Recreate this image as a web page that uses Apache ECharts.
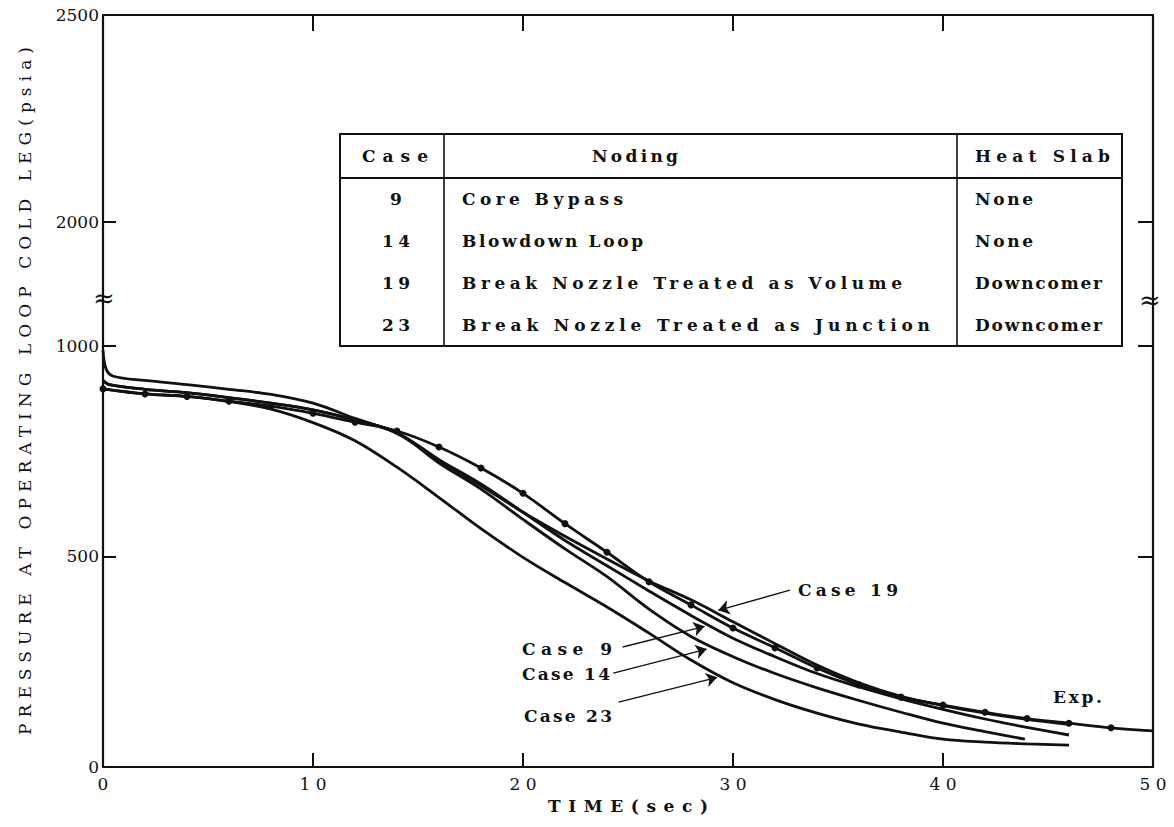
<!DOCTYPE html>
<html>
<head>
<meta charset="utf-8">
<script src="https://cdn.jsdelivr.net/npm/echarts@6/dist/echarts.min.js"></script>
<style>
html,body{margin:0;padding:0;background:#fff;}
#chart{width:1174px;height:827px;}
</style>
</head>
<body>
<div id="chart"></div>
<script>
// ---------------- DATA ----------------
const expTime      = [0,2,4,6,8,10,12,14,16,18,20,22,24,26,28,30,32,34,36,38,40,42,44,46,48,50];
const expPressure  = [898,886,880,869,857,840,819,798,760,710,650,578,510,440,385,330,283,235,195,166,147,130,115,104,93,86];

const case9Time     = [0,0.3,2,4,6,8,10,12,14,16,18,20,22,24,26,28,30,32,34,36,38,40,42,44,46];
const case9Pressure = [918,908,897,889,877,864,848,824,794,730,672,605,538,478,418,360,306,262,222,190,162,137,114,94,76];

const case14Time     = [0,0.3,2,4,6,8,10,12,14,16,18,20,22,24,26,28,30,32,34,36,38,40,42,43.9];
const case14Pressure = [918,908,897,889,877,864,848,824,794,722,660,588,518,452,375,310,262,222,188,158,130,104,84,66];

const case19Time     = [0,0.15,0.5,2,4,6,8,10,12,14,16,18,20,22,24,26,28,30,32,34,36,38,40,42,44,46];
const case19Pressure = [990,945,928,918,908,897,885,864,828,792,728,668,605,548,494,442,397,345,293,242,200,168,146,128,113,101];

const case23Time     = [0,2,4,6,8,10,12,14,16,18,20,22,24,26,28,30,32,34,36,38,40,42,44,46];
const case23Pressure = [898,886,880,868,850,818,775,712,640,566,498,438,380,318,254,200,160,128,102,83,66,59,55,52];

const xTickValues = [0,10,20,30,40,50];
const yTickLabels = [0,500,1000,2000,2500];

const tableHeader   = ['Case','Noding','Heat Slab'];
const tableCase     = ['9','14','19','23'];
const tableNoding   = ['Core Bypass','Blowdown Loop','Break Nozzle Treated as Volume','Break Nozzle Treated as Junction'];
const tableHeatSlab = ['None','None','Downcomer','Downcomer'];

// ---------------- BROKEN AXIS MAPPING ----------------
// 0..1000 linear, then axis break, 2000..2500 drawn above.
const BREAK_LOW = 1000, BREAK_HIGH = 2000, GAP_POS = 1295, UPPER_SCALE = 0.982;
function toAxis(v){ return v <= BREAK_LOW ? v : GAP_POS + (v - BREAK_HIGH) * UPPER_SCALE; }
const Y_MAX = toAxis(2500);
const yTickPositions = yTickLabels.map(toAxis);

function pairs(ts, ps){ return ts.map((t,i)=>[t, toAxis(ps[i])]); }

// ---------------- STYLE ----------------
const INK = '#111';
const FONT = '"DejaVu Serif", serif';
const LINE_W = 2.8;

const chart = echarts.init(document.getElementById('chart'), null, {renderer:'svg'});

function caseSeries(name, ts, ps){
  return {
    name, type:'line', data: pairs(ts, ps),
    showSymbol:false, smooth:0.35,
    lineStyle:{color:INK, width:LINE_W}, itemStyle:{color:INK},
    silent:true, animation:false, z:3
  };
}

const expData = pairs(expTime, expPressure).map((d,i,arr)=> i===arr.length-1 ? {value:d, symbol:'none'} : d);

const arrowStyle = {color:INK, width:1.3, type:'solid'};

// table geometry
const TL = 340, TR = 1122, TT = 134, THB = 178, TB = 346, C1 = 444, C2 = 957;
const rowH = (TB - THB) / tableCase.length;
const tableFont = 'bold 17px ' + FONT;

const graphics = [
  {type:'rect', shape:{x:TL, y:TT, width:TR-TL, height:TB-TT}, style:{fill:'#fff', stroke:INK, lineWidth:2}, silent:true, z:10},
  {type:'line', shape:{x1:TL, y1:THB, x2:TR, y2:THB}, style:{stroke:INK, lineWidth:2}, silent:true, z:11},
  {type:'line', shape:{x1:C1, y1:TT, x2:C1, y2:TB}, style:{stroke:INK, lineWidth:1.6}, silent:true, z:11},
  {type:'line', shape:{x1:C2, y1:TT, x2:C2, y2:TB}, style:{stroke:INK, lineWidth:1.6}, silent:true, z:11}
];
function txt(text, x, y, align, font){
  return {type:'text', x, y, silent:true, z:12,
    style:{text, font: font || tableFont, fill:INK, textAlign:align, textVerticalAlign:'middle', align:align, verticalAlign:'middle'}};
}
const headerY = (TT + THB) / 2;
graphics.push(txt(tableHeader[0], 395, headerY, 'center'));
graphics.push(txt(tableHeader[1], 635, headerY, 'center'));
graphics.push(txt(tableHeader[2], 975, headerY, 'left'));
tableCase.forEach((c,i)=>{
  const y = THB + rowH*(i+0.5);
  graphics.push(txt(c, 396, y, 'center'));
  graphics.push(txt(tableNoding[i], 462, y, 'left'));
  graphics.push(txt(tableHeatSlab[i], 975, y, 'left'));
});
// curve annotations
graphics.push(txt('Case 19', 798, 590, 'left'));
graphics.push(txt('Case 9', 522, 649, 'left'));
graphics.push(txt('Case 14', 522, 674, 'left'));
graphics.push(txt('Case 23', 524, 716, 'left'));
graphics.push(txt('Exp.', 1053, 697, 'left'));
// axis break marks
graphics.push(txt('\u2248', 104, 298, 'center', '26px ' + FONT));
graphics.push(txt('\u2248', 1150, 300, 'center', '26px ' + FONT));

const option = {
  animation:false,
  backgroundColor:'#fff',
  grid:{left:103, right:21, top:15, bottom:60, containLabel:false, outerBoundsMode:'none'},
  xAxis:[
    {type:'value', min:0, max:50, interval:10, position:'bottom',
     name:'TIME(sec)', nameLocation:'middle', nameGap:30, nameMoveOverlap:false,
     nameTextStyle:{color:INK, fontFamily:FONT, fontSize:17, fontWeight:'bold'},
     axisLine:{show:true, onZero:false, lineStyle:{color:INK, width:2.2}},
     axisTick:{show:true, inside:true, length:14, lineStyle:{color:INK, width:2}},
     axisLabel:{show:true, color:INK, fontFamily:FONT, fontSize:17, margin:8,
                customValues:xTickValues, formatter:v=>String(v)},
     splitLine:{show:false}},
    {type:'value', min:0, max:50, interval:10, position:'top',
     axisLine:{show:true, onZero:false, lineStyle:{color:INK, width:2.2}},
     axisTick:{show:true, inside:true, length:16, lineStyle:{color:INK, width:2}},
     axisLabel:{show:false}, splitLine:{show:false}}
  ],
  yAxis:[
    {type:'value', min:0, max:Y_MAX, position:'left',
     name:'PRESSURE AT OPERATING LOOP COLD LEG(psia)', nameLocation:'middle', nameGap:70, nameMoveOverlap:false,
     nameTextStyle:{color:INK, fontFamily:FONT, fontSize:17},
     axisLine:{show:true, onZero:false, lineStyle:{color:INK, width:2.2}},
     axisTick:{show:true, inside:true, length:13, customValues:yTickPositions.slice(1,4), lineStyle:{color:INK, width:2}},
     axisLabel:{show:true, color:INK, fontFamily:FONT, fontSize:17, margin:4,
                customValues:yTickPositions,
                formatter:(v)=>{ const i = yTickPositions.findIndex(p=>Math.abs(p-v)<0.5); return i>=0 ? String(yTickLabels[i]) : ''; }},
     splitLine:{show:false}},
    {type:'value', min:0, max:Y_MAX, position:'right',
     axisLine:{show:true, onZero:false, lineStyle:{color:INK, width:2.2}},
     axisTick:{show:true, inside:true, length:15, customValues:yTickPositions.slice(1,4), lineStyle:{color:INK, width:2}},
     axisLabel:{show:false}, splitLine:{show:false}}
  ],
  series:[
    {name:'Exp.', type:'line', data:expData, showSymbol:true, symbol:'circle', symbolSize:7,
     smooth:0.35, lineStyle:{color:INK, width:LINE_W}, itemStyle:{color:INK},
     silent:true, animation:false, z:4,
     markLine:{silent:true, animation:false, symbol:['none','arrow'], symbolSize:11,
       lineStyle:arrowStyle, label:{show:false}, emphasis:{disabled:true},
       data:[
         [{coord:[32.71, 420]},{coord:[29.3, 372]}],
         [{coord:[24.75, 285]},{coord:[28.65, 334]}],
         [{coord:[24.3, 223]},{coord:[28.75, 280]}],
         [{coord:[24.55, 154]},{coord:[29.25, 213]}]
       ]}},
    caseSeries('Case 9', case9Time, case9Pressure),
    caseSeries('Case 14', case14Time, case14Pressure),
    caseSeries('Case 19', case19Time, case19Pressure),
    caseSeries('Case 23', case23Time, case23Pressure)
  ],
  graphic:{elements:graphics}
};
chart.setOption(option);

// ---------------- LETTER SPACING (typewriter look) ----------------
const spacingTargets = {
  'Case':66, 'Noding':86, 'Heat Slab':135,
  '14':28, '19':28, '23':28,
  'Core Bypass':161, 'Blowdown Loop':181,
  'Break Nozzle Treated as Volume':440, 'Break Nozzle Treated as Junction':468,
  'None':58, 'Downcomer':127,
  'Case 19':100, 'Case 9':90, 'Case 14':88, 'Case 23':88, 'Exp.':49,
  '10':27, '20':27, '30':27, '40':27, '50':27,
  'TIME(sec)':160, 'PRESSURE AT OPERATING LOOP COLD LEG(psia)':688
};
function applySpacing(){
  document.querySelectorAll('#chart svg text').forEach(el=>{
    if (el.getAttribute('data-ls')) return;
    const key = el.textContent;
    const target = spacingTargets[key];
    if (target == null || key.length < 2) { el.setAttribute('data-ls','0'); return; }
    let natural = 0;
    try { natural = el.getComputedTextLength(); } catch(e) { return; }
    if (!natural) return;
    const s = (target - natural) / (key.length - 1);
    el.style.letterSpacing = s.toFixed(2) + 'px';
    const anchor = el.getAttribute('text-anchor') || getComputedStyle(el).textAnchor;
    if (anchor === 'middle') el.setAttribute('dx', (s/2).toFixed(2));
    else if (anchor === 'end') el.setAttribute('dx', s.toFixed(2));
    el.setAttribute('data-ls','1');
  });
}
applySpacing();
chart.on('finished', applySpacing);
requestAnimationFrame(applySpacing);
setTimeout(applySpacing, 50);
</script>
</body>
</html>
